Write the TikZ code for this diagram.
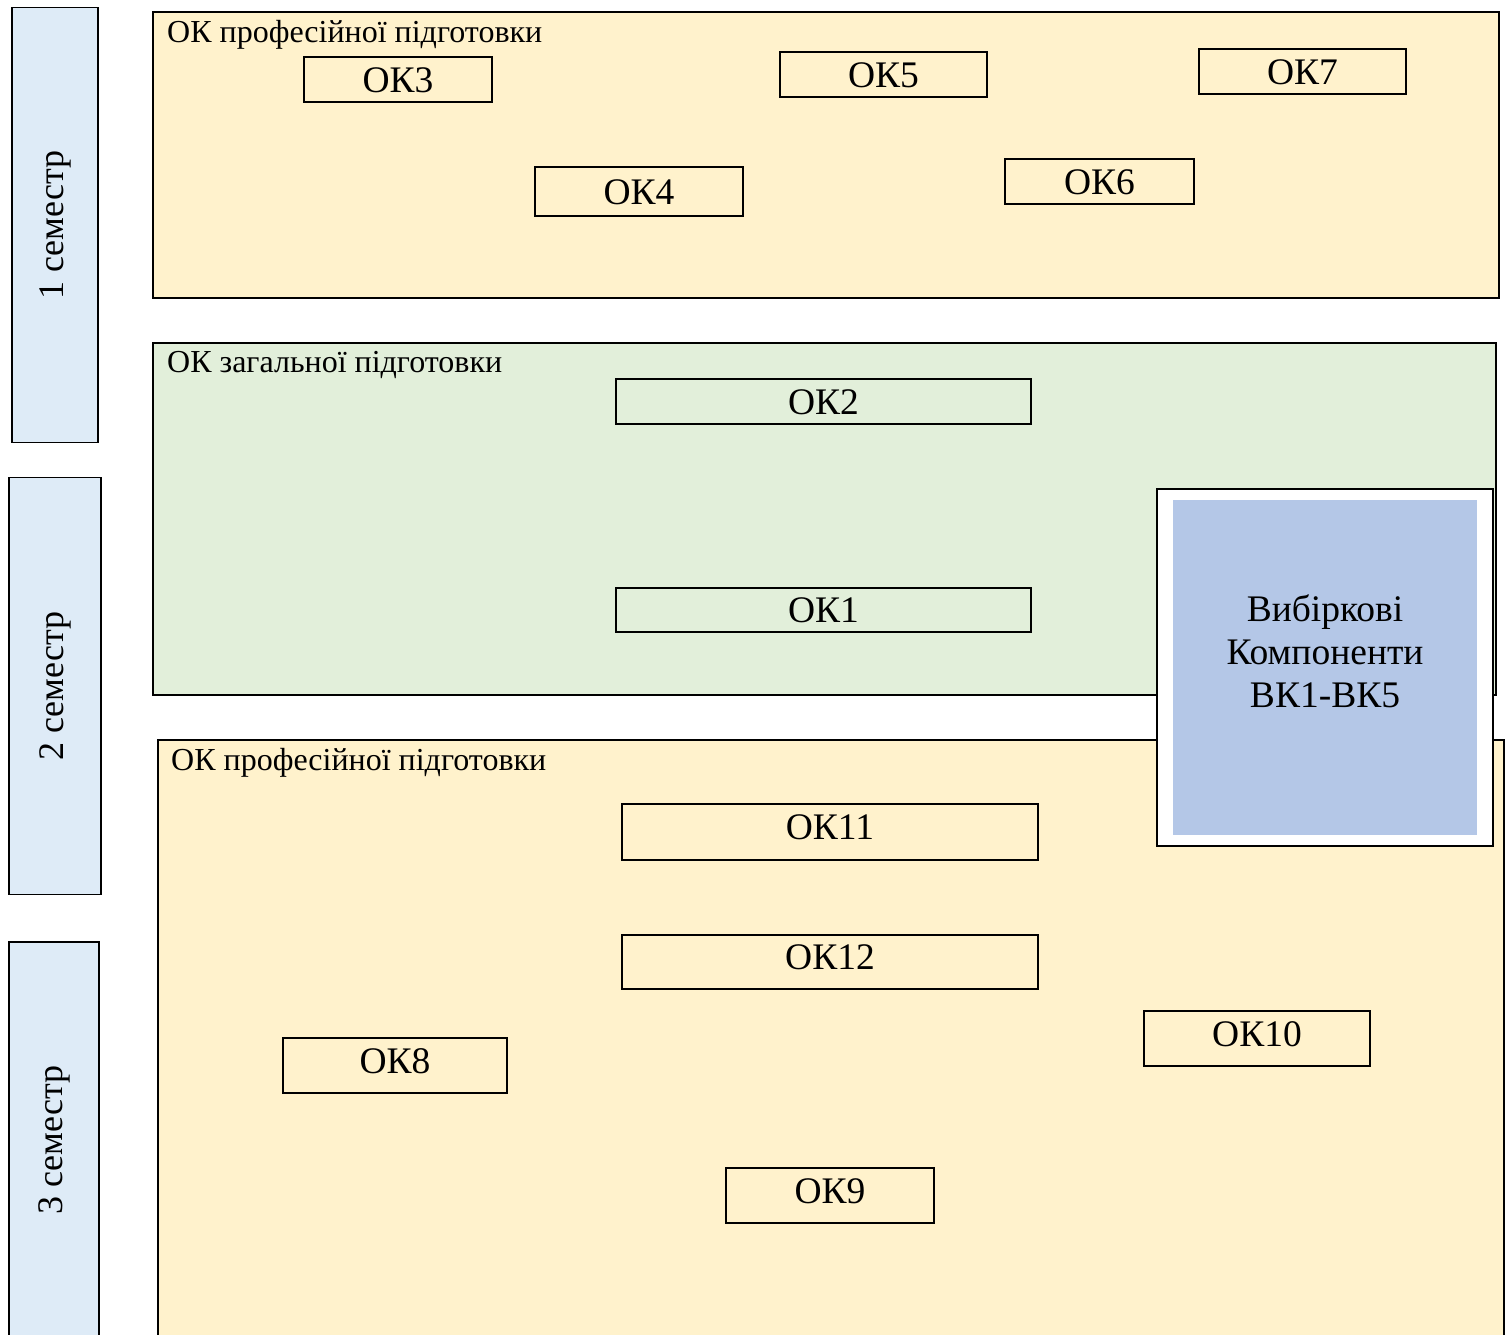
\documentclass[tikz,border=0pt]{standalone}
\usepackage{fontspec}
\setmainfont{Liberation Serif}
\usetikzlibrary{positioning}

\definecolor{profyellow}{HTML}{FFF2CC}
\definecolor{gengreen}{HTML}{E2EFDA}
\definecolor{semblue}{HTML}{DEEBF7}
\definecolor{vkblue}{HTML}{B4C7E7}

\begin{document}
\begin{tikzpicture}[x=1pt, y=-1pt,
    panel/.style={draw, line width=1.8pt, anchor=north west, inner sep=0pt},
    paneltitle/.style={inner sep=0pt, font=\fontsize{32}{38}\selectfont},
    okbox/.style={draw, line width=1.8pt, inner sep=0pt, font=\fontsize{37.5}{44}\selectfont, text height=25pt, text depth=0pt},
    tallbox/.style={okbox, text depth=10pt},
    semester/.style={draw, line width=1.8pt, fill=semblue, rotate=90, inner sep=0pt, font=\fontsize{36}{42}\selectfont}]
        \clip (0,0) rectangle (1510,1334);

        % Semesters
        \node[semester, minimum width=435pt, minimum height=86pt] (sem1) at (55,225) {1 семестр};
        \node[semester, minimum width=417pt, minimum height=92pt] (sem2) at (55,686) {2 семестр};
        \node[semester, minimum width=396pt, minimum height=90pt] (sem3) at (54,1140) {3 семестр};

        % Panels
        \node[panel, fill=profyellow, minimum width=1346pt, minimum height=286pt] (prof1) at (152,11) {};
        \node[panel, fill=gengreen, minimum width=1343pt, minimum height=352pt] (gen) at (152,342) {};
        \node[panel, fill=profyellow, minimum width=1346pt, minimum height=610pt] (prof3) at (157,739) {};

        \node[paneltitle, below right=9pt and 15pt of prof1.north west] (prof1title) {ОК професійної підготовки};
        \node[paneltitle, below right=9pt and 15pt of gen.north west] (gentitle) {ОК загальної підготовки};
        \node[paneltitle, below right=9pt and 14pt of prof3.north west] (prof3title) {ОК професійної підготовки};

        % 1 semester components
        \node[okbox, minimum width=188pt, minimum height=45pt] (ok3) at (398,79.5) {ОК3};
        \node[okbox, minimum width=207pt, minimum height=45pt] (ok5) at (883.5,74.5) {ОК5};
        \node[okbox, minimum width=207pt, minimum height=45pt] (ok7) at (1302.5,71.5) {ОК7};
        \node[okbox, minimum width=208pt, minimum height=49pt] (ok4) at (639,191.5) {ОК4};
        \node[okbox, minimum width=189pt, minimum height=45pt] (ok6) at (1099.5,181.5) {ОК6};

        % 2 semester components
        \node[okbox, minimum width=415pt, minimum height=45pt] (ok2) at (823.5,401.5) {ОК2};
        \node[okbox, minimum width=415pt, minimum height=44pt] (ok1) at (823.5,610) {ОК1};

        % 3 semester components
        \node[tallbox, minimum width=416pt, minimum height=56pt] (ok11) at (830,832) {ОК11};
        \node[tallbox, minimum width=416pt, minimum height=54pt] (ok12) at (830,962) {ОК12};
        \node[tallbox, minimum width=226pt, minimum height=55pt] (ok10) at (1257,1038.5) {ОК10};
        \node[tallbox, minimum width=224pt, minimum height=55pt] (ok8) at (395,1065.5) {ОК8};
        \node[tallbox, minimum width=208pt, minimum height=55pt] (ok9) at (830,1195.5) {ОК9};

        % Elective components
        \node[draw, line width=1.5pt, fill=white, minimum width=336pt, minimum height=357pt] (vkframe) at (1325,667.5) {};
        \node[fill=vkblue, minimum width=304pt, minimum height=335pt] (vkfill) at (1325,667.5) {};
        \node[align=center, inner sep=0pt, font=\fontsize{37.5}{43}\selectfont] (vktext) at (1325,651) {Вибіркові\\Компоненти\\ВК1-ВК5};
    \end{tikzpicture}
\end{document}
